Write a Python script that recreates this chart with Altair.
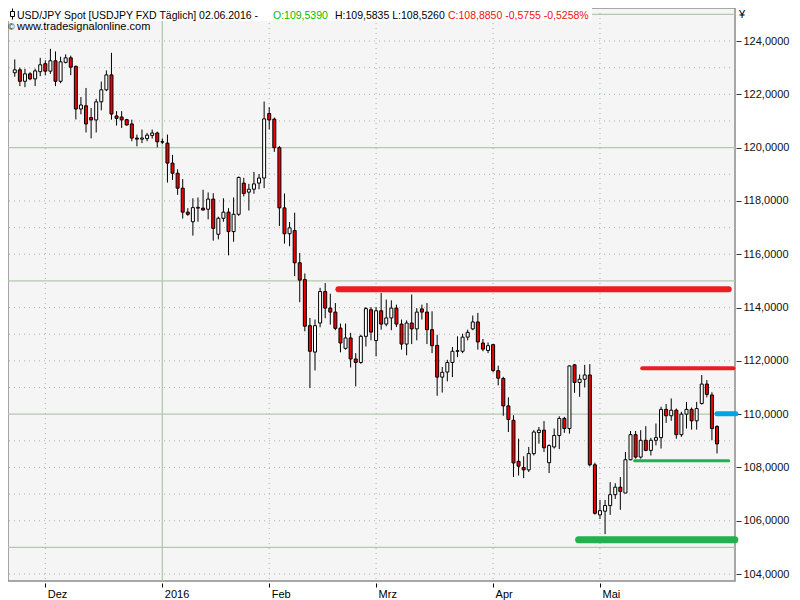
import altair as alt
import pandas as pd

# ---------------- data (USD/JPY daily, 23 Nov 2015 .. 02 Jun 2016, weekday index) ----------------
opens = [
    122.81, 122.92, 122.49, 122.77, 122.58, 122.85, 123.15, 122.87, 123.26, 122.49,
    123.20, 123.37, 123.05, 121.45, 121.57, 121.13, 121.04, 121.72, 122.17, 122.73,
    121.19, 121.15, 121.05, 120.89, 120.36, 120.32, 120.34, 120.46, 120.55, 120.22,
    120.17, 119.42, 119.04, 118.48, 117.58, 117.22, 117.73, 117.73, 117.69, 118.07,
    116.75, 117.35, 117.58, 116.85, 117.50, 118.67, 118.33, 118.44, 118.67, 118.86,
    121.28, 121.07, 120.00, 117.74, 116.77, 116.89, 115.68, 115.05, 113.32, 112.33,
    113.42, 114.60, 113.98, 113.83, 113.23, 112.47, 112.86, 112.07, 111.94, 112.92,
    113.92, 112.76, 113.88, 113.38, 113.61, 113.98, 113.38, 112.63, 113.42, 113.20,
    113.95, 113.83, 113.17, 112.58, 111.39, 111.58, 111.94, 112.36, 112.36, 112.89,
    113.20, 113.46, 112.67, 112.39, 112.61, 111.63, 111.34, 110.31, 109.77, 108.23,
    108.00, 107.91, 108.52, 109.31, 109.40, 108.18, 108.77, 109.20, 109.84, 109.46,
    111.85, 111.19, 111.31, 111.47, 108.10, 106.22, 106.36, 106.57, 106.98, 107.26,
    107.04, 108.29, 109.23, 108.39, 109.02, 108.64, 109.02, 109.12, 110.18, 109.94,
    110.15, 109.23, 110.00, 110.18, 109.75, 110.40, 111.13, 110.72, 109.539,
]
highs = [
    123.31, 123.00, 122.96, 122.83, 122.96, 123.37, 123.28, 123.71, 123.61, 123.41,
    123.50, 123.45, 123.08, 121.90, 122.24, 121.49, 121.83, 122.48, 122.90, 123.56,
    121.37, 121.37, 121.08, 121.05, 120.49, 120.68, 120.55, 120.68, 120.60, 120.34,
    120.49, 119.73, 119.19, 118.82, 117.73, 118.10, 118.13, 118.42, 118.32, 118.29,
    117.41, 118.10, 117.73, 118.13, 118.92, 118.87, 118.64, 119.09, 119.01, 121.73,
    121.52, 121.13, 120.06, 118.28, 117.21, 117.56, 116.05, 115.28, 113.61, 113.55,
    114.74, 114.92, 114.52, 114.17, 113.40, 113.40, 113.05, 112.29, 112.98, 114.02,
    114.02, 114.02, 114.55, 114.30, 114.27, 114.11, 113.55, 113.52, 114.49, 113.98,
    114.11, 114.17, 113.86, 112.98, 111.77, 112.04, 112.52, 112.92, 113.02, 113.17,
    113.70, 113.80, 112.82, 112.69, 112.63, 111.82, 111.40, 110.63, 109.96, 109.08,
    108.42, 108.77, 109.40, 109.52, 109.74, 108.87, 109.46, 109.92, 109.90, 111.83,
    111.88, 111.49, 111.85, 111.88, 108.18, 106.78, 106.78, 107.45, 107.41, 107.64,
    108.58, 109.37, 109.37, 109.40, 109.55, 109.11, 109.65, 110.28, 110.38, 110.59,
    110.21, 110.09, 110.46, 110.25, 110.46, 111.47, 111.28, 110.82, 109.5835,
]
lows = [
    122.66, 122.31, 122.27, 122.53, 122.31, 122.68, 122.71, 122.77, 122.31, 122.42,
    123.16, 122.72, 121.06, 121.25, 120.57, 120.35, 120.57, 121.40, 122.12, 121.05,
    120.83, 120.74, 120.83, 120.24, 120.05, 120.17, 120.24, 120.34, 120.01, 120.14,
    118.69, 118.79, 118.23, 117.34, 117.44, 116.70, 117.22, 117.64, 117.31, 116.51,
    116.56, 117.22, 115.96, 116.47, 117.44, 118.17, 117.64, 118.27, 118.44, 118.48,
    120.68, 119.84, 117.06, 116.40, 116.30, 115.18, 114.20, 113.11, 110.98, 111.64,
    113.26, 113.60, 113.36, 113.15, 112.32, 112.42, 111.75, 111.04, 111.89, 112.54,
    112.77, 112.17, 113.17, 113.30, 113.15, 113.27, 112.42, 112.21, 112.63, 112.77,
    113.55, 112.63, 112.29, 110.69, 110.81, 111.23, 111.39, 112.14, 112.29, 112.77,
    113.15, 112.42, 112.36, 112.29, 111.57, 111.08, 109.94, 109.33, 107.64, 107.70,
    107.60, 107.83, 108.45, 108.89, 108.58, 107.79, 108.71, 108.69, 109.30, 109.27,
    110.80, 110.65, 111.01, 108.04, 106.23, 106.07, 105.50, 106.22, 106.82, 106.41,
    107.04, 108.27, 108.33, 108.33, 108.61, 108.45, 108.83, 108.71, 109.67, 109.75,
    109.08, 109.15, 109.46, 109.42, 109.42, 110.36, 110.63, 109.02, 108.526,
]
closes = [
    122.92, 122.49, 122.77, 122.58, 122.88, 123.11, 122.87, 123.26, 122.49, 123.22,
    123.37, 123.02, 121.45, 121.60, 120.89, 121.04, 121.72, 122.17, 122.73, 121.26,
    121.10, 121.04, 120.85, 120.36, 120.32, 120.36, 120.47, 120.55, 120.22, 120.21,
    119.42, 119.04, 118.48, 117.58, 117.50, 117.75, 117.76, 117.66, 118.07, 116.97,
    117.35, 117.58, 116.85, 117.50, 118.88, 118.28, 118.44, 118.64, 118.86, 121.08,
    121.04, 120.00, 117.74, 116.77, 116.99, 115.68, 115.03, 113.30, 112.36, 113.32,
    114.60, 113.98, 113.83, 113.22, 112.67, 112.86, 112.07, 111.94, 112.92, 113.96,
    113.08, 113.88, 113.38, 113.61, 113.98, 113.38, 112.63, 113.42, 113.20, 113.83,
    113.83, 113.17, 112.57, 111.39, 111.57, 111.94, 112.36, 112.38, 112.89, 113.07,
    113.46, 112.71, 112.44, 112.57, 111.64, 111.35, 110.31, 109.80, 108.17, 108.05,
    107.91, 108.52, 109.33, 109.40, 108.74, 108.82, 109.20, 109.84, 109.46, 111.81,
    111.19, 111.31, 111.47, 108.10, 106.28, 106.38, 106.57, 106.98, 107.26, 107.10,
    108.29, 109.23, 108.39, 109.02, 108.64, 109.02, 109.12, 110.18, 109.94, 110.15,
    109.23, 110.00, 110.18, 109.75, 110.21, 111.13, 110.74, 109.46, 108.885,
]

month_idx = [6, 29, 50, 71, 94, 115]
month_labels = ["Dez", "2016", "Feb", "Mrz", "Apr", "Mai"]
year_idx = [29]
price_ticks = list(range(104, 125, 2))
grid_minor = [v for v in range(104, 126) if v % 5 != 0]
grid_major = [105, 110, 115, 120, 125]

# support / resistance lines: price, first index, last index
level_prices = [114.69, 111.72, 110.02, 108.25, 105.29]
level_from = [63.6, 123.3, 138.0, 121.8, 110.8]
level_to = [140.3, 141.2, 141.7, 140.3, 141.5]

header_main = "USD/JPY Spot [USDJPY FXD  Täglich] 02.06.2016 - "
header_open = "O:109,5390"
header_hl = "H:109,5835 L:108,5260"
header_close = "C:108,8850 -0,5755 -0,5258%"
website = "www.tradesignalonline.com"

# ---------------- styles ----------------
FONT = "Liberation Sans"
LEVEL_STYLE = [("#ED1C24", 6), ("#ED1C24", 4), ("#00A2E8", 5), ("#22B14C", 3), ("#22B14C", 7)]

df = pd.DataFrame({"i": list(range(len(opens))), "open": opens, "high": highs,
                   "low": lows, "close": closes})

xs = alt.Scale(domain=[-0.35, 140.55], nice=False, zero=False)
ys = alt.Scale(domain=[103.74, 125.24], nice=False, zero=False)

x_label_expr = " : ".join(
    f"datum.value == {v} ? '{t}'" for v, t in zip(month_idx, month_labels)
) + " : ''"

X_AX = alt.Axis(
    orient="bottom", values=month_idx, labelExpr=x_label_expr, title=None,
    grid=False, domain=False, tickSize=4, tickColor="black", tickWidth=1,
    offset=2, labelAlign="left", labelOffset=2, labelPadding=1,
    labelBaseline="top", labelFont=FONT, labelFontSize=11, labelColor="black",
    labelOverlap=False, labelFlush=False, labelBound=False)
Y_AX = alt.Axis(
    orient="right", values=price_ticks, title=None, grid=False, domain=False,
    labelExpr="replace(format(datum.value, '.4f'), '.', ',')",
    tickSize=5, tickColor="#333333", tickWidth=1, offset=1, labelPadding=2,
    labelFont=FONT, labelFontSize=11, labelColor="#101010",
    labelOverlap=False, labelFlush=False, labelBound=False)


def X(field):
    return alt.X(field, scale=xs, axis=X_AX)


def Y(field):
    return alt.Y(field, scale=ys, axis=Y_AX)


minor_h = alt.Chart(pd.DataFrame({"v": grid_minor})).mark_rule(
    color="#a3b7a3", strokeDash=[1, 4], strokeWidth=1
).encode(y=Y("v:Q"))
major_h = alt.Chart(pd.DataFrame({"v": grid_major})).mark_rule(
    color="#b2caae", strokeWidth=1.3
).encode(y=Y("v:Q"))
minor_v = alt.Chart(pd.DataFrame({"v": [m for m in month_idx if m not in year_idx]})).mark_rule(
    color="#a3b7a3", strokeDash=[1, 4], strokeWidth=1
).encode(x=X("v:Q"))
major_v = alt.Chart(pd.DataFrame({"v": year_idx})).mark_rule(
    color="#b2caae", strokeWidth=1.3
).encode(x=X("v:Q"))

wicks = alt.Chart(df).mark_rule(color="black", strokeWidth=1).encode(
    x=X("i:Q"), y=Y("low:Q"), y2="high:Q",
)

bodies = alt.Chart(df).mark_bar(size=3, stroke="black", strokeWidth=1).encode(
    x=X("i:Q"), y=Y("open:Q"), y2="close:Q",
    fill=alt.condition("datum.open > datum.close", alt.value("#f00000"), alt.value("white")),
)

levels = []
for p, a, b, (c, w) in zip(level_prices, level_from, level_to, LEVEL_STYLE):
    levels.append(
        alt.Chart(pd.DataFrame({"p": [p], "a": [a], "b": [b]})).mark_rule(
            color=c, strokeWidth=w, strokeCap="round"
        ).encode(x=X("a:Q"), x2="b:Q", y=Y("p:Q"))
    )

one = pd.DataFrame({"k": [0]})
hdr_box = alt.Chart(one).mark_rect(fill="white").encode(
    x=alt.value(0), x2=alt.value(584), y=alt.value(0), y2=alt.value(13))
icon_line = alt.Chart(one).mark_rule(color="black", strokeWidth=1).encode(
    x=alt.value(4.5), y=alt.value(0.5), y2=alt.value(11.5))
icon_box = alt.Chart(one).mark_rect(fill="white", stroke="black", strokeWidth=1).encode(
    x=alt.value(2.5), x2=alt.value(6.5), y=alt.value(3.5), y2=alt.value(8.5))


def txt(s, x, y, color="black", size=10.5):
    return alt.Chart(one).mark_text(
        align="left", baseline="alphabetic", font=FONT, fontSize=size, color=color
    ).encode(x=alt.value(x), y=alt.value(y), text=alt.value(s))


texts = [
    txt(header_main, 9, 10.5),
    txt(header_open, 265, 10.5, "#00c000"),
    txt(header_hl, 327, 10.5),
    txt(header_close, 440, 10.5, "#f01010"),
    txt("©", 0, 21.5, size=9),
    txt(website, 9, 21.5, size=11),
    txt("¥", 731, 9.5, size=11),
]

chart = alt.layer(
    minor_h, major_h, minor_v, major_v, wicks, bodies, *levels,
    hdr_box, icon_line, icon_box, *texts,
).properties(
    width=727, height=573, background="white",
    autosize=alt.AutoSizeParams(type="none"),
    padding={"left": 0, "top": 0, "right": 57, "bottom": 19},
).configure_view(fill="#f5f5f5", stroke="#8c8c8c", strokeWidth=1.5)

chart.save("out.html", embed_options={"renderer": "svg", "actions": False})
